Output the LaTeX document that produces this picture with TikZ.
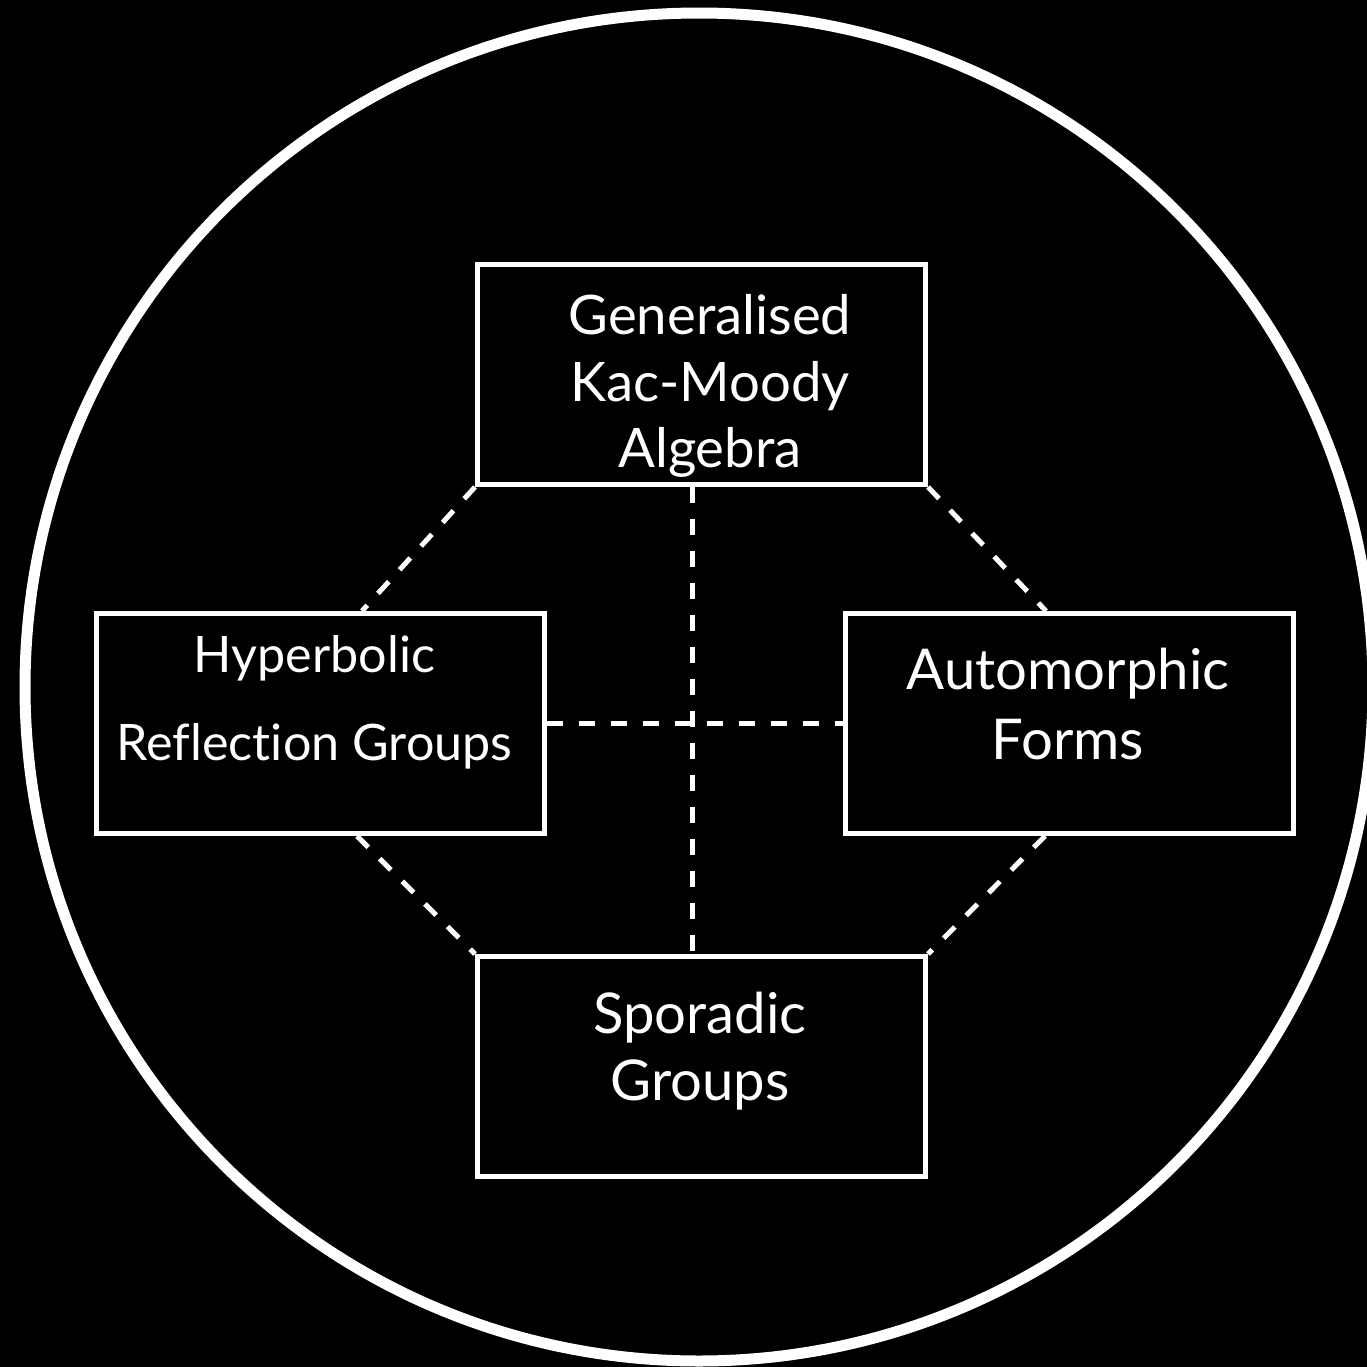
\documentclass[tikz,border=0pt]{standalone}
\usepackage{fontspec}
\setmainfont{Lato}[Ligatures=NoCommon]
\usepackage{tikz}
\usetikzlibrary{positioning}
\tikzstyle{box} = [rectangle, draw=white, line width=0.5mm, minimum width=44.8mm, minimum height=22mm, inner sep=0pt]
\tikzstyle{txt} = [text=white, align=center, inner sep=0pt, font=\fontsize{16}{19}\selectfont]
\tikzstyle{dline} = [draw=white, line width=0.5mm, dash pattern=on 1.6mm off 1.6mm]

\begin{document}
\begin{tikzpicture}[x=0.1mm, y=-0.1mm]
			\path [use as bounding box, fill=black] (0,0) rectangle (1367,1367);
			\draw [white, line width=1.1mm] (699,687) circle [radius=67.4mm];
			
			\node [box] (gkm) at (701.5,374.5) {};
			\node [box] (hyp) at (320,723.5) {};
			\node [box] (auto) at (1069,723.5) {};
			\node [box] (spor) at (701.5,1066.5) {};
			
			\node [txt, font=\fontsize{15.5}{19}\selectfont] (gkmtext) at (710,386) {Generalised\\Kac-Moody\\Algebra};
			\node [txt, font=\fontsize{14.3}{19}\selectfont] (hyptext) at (314.5,702) {Hyperbolic\\[6pt]Reflection Groups};
			\node [txt] (autotext) at (1068,704) {Automorphic\\[1pt]Forms};
			\node [txt] (sportext) at (700,1051) {Sporadic\\Groups};
			
			\path [dline] (gkm.south) ++(-0.95mm,0) -- ([xshift=-0.95mm]spor.north);
			\path [dline] (hyp.east) -- (auto.west);
			\path [dline] (gkm.south west) -- ([xshift=4.2mm]hyp.north);
			\path [dline] (gkm.south east) -- ([xshift=-2.3mm]auto.north);
			\path [dline] ([xshift=3.7mm]hyp.south) -- (spor.north west);
			\path [dline] ([xshift=-2.4mm]auto.south) -- (spor.north east);
		\end{tikzpicture}
\end{document}
